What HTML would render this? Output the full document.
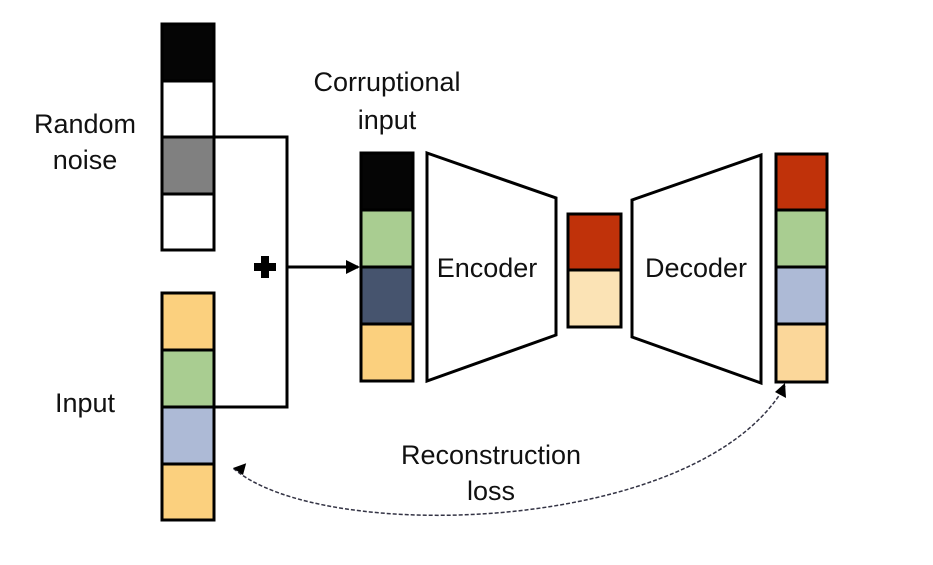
<!DOCTYPE html>
<html><head><meta charset="utf-8"><style>
html,body{margin:0;padding:0;background:#fff;}
svg text{font-family:"Liberation Sans",sans-serif;font-size:27px;fill:#111;}
</style></head><body>
<svg width="933" height="560" viewBox="0 0 933 560" xmlns="http://www.w3.org/2000/svg">
<defs>
<marker id="ah2" markerWidth="14" markerHeight="14" refX="12" refY="7" orient="auto" markerUnits="userSpaceOnUse"><path d="M0,0 L14,7 L0,14 z" fill="#000"/></marker>
</defs>
<g stroke="#000" stroke-width="3">
<rect x="162" y="24" width="52" height="57" fill="#050505"/>
<rect x="162" y="81" width="52" height="56" fill="#fff"/>
<rect x="162" y="137" width="52" height="57" fill="#808080"/>
<rect x="162" y="194" width="52" height="56" fill="#fff"/>
<rect x="162" y="293" width="52" height="57" fill="#fbd07e"/>
<rect x="162" y="350" width="52" height="57" fill="#a9cd91"/>
<rect x="162" y="407" width="52" height="57" fill="#adbad6"/>
<rect x="162" y="464" width="52" height="56" fill="#fbd07e"/>
<polyline points="214,137 287,137 287,407 214,407" fill="none"/>
<line x1="287" y1="267" x2="358" y2="267" marker-end="url(#ah2)"/>
<rect x="361" y="153" width="52" height="57" fill="#050505"/>
<rect x="361" y="210" width="52" height="57" fill="#a9cd91"/>
<rect x="361" y="267" width="52" height="57" fill="#46546e"/>
<rect x="361" y="324" width="52" height="57" fill="#fbd07e"/>
<polygon points="427,153 556,198 556,335 427,381" fill="#fff"/>
<rect x="568" y="214" width="53" height="56" fill="#c0320a"/>
<rect x="568" y="270" width="53" height="57" fill="#fbe3b5"/>
<polygon points="632,200 761,155 761,383 632,337" fill="#fff"/>
<rect x="776" y="154" width="51" height="56" fill="#c0320a"/>
<rect x="776" y="210" width="51" height="57" fill="#a9cd91"/>
<rect x="776" y="267" width="51" height="57" fill="#adbad6"/>
<rect x="776" y="324" width="51" height="58" fill="#fbd79a"/>
</g>
<rect x="261" y="256" width="8" height="22" fill="#000"/>
<rect x="254" y="263" width="22" height="8" fill="#000"/>
<path d="M785,386 C700,535 320,545 233,468" fill="none" stroke="#334" stroke-width="1.5" stroke-dasharray="4,2"/>
<path d="M233,468 L247,468 L240,478 z" fill="#000" transform="rotate(-20 233 468)"/>
<path d="M785,383 L786,398 L775,392 z" fill="#000"/>
<text x="85" y="133" text-anchor="middle">Random</text>
<text x="85" y="169" text-anchor="middle">noise</text>
<text x="85" y="412" text-anchor="middle">Input</text>
<text x="387" y="91" text-anchor="middle">Corruptional</text>
<text x="387" y="129" text-anchor="middle">input</text>
<text x="487" y="277" text-anchor="middle">Encoder</text>
<text x="696" y="277" text-anchor="middle">Decoder</text>
<text x="491" y="464" text-anchor="middle">Reconstruction</text>
<text x="491" y="500" text-anchor="middle">loss</text>
</svg>
</body></html>
